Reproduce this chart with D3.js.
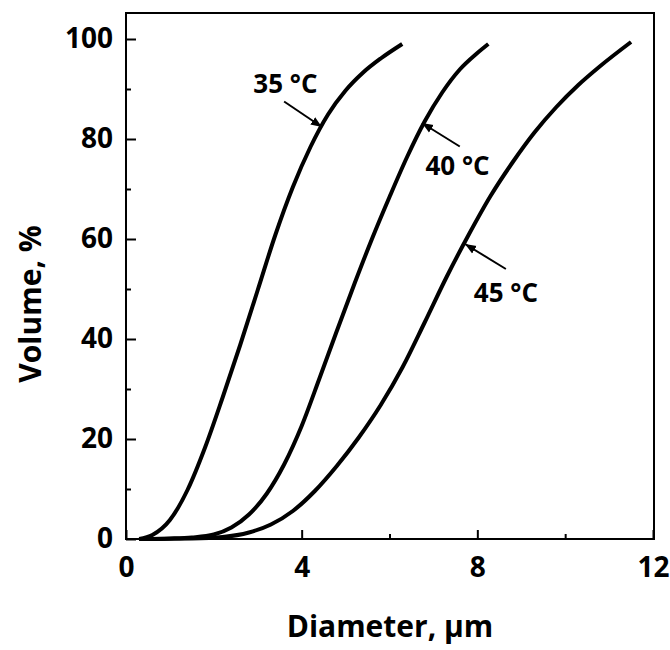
<!DOCTYPE html>
<html>
<head>
<meta charset="utf-8">
<script src="https://cdnjs.cloudflare.com/ajax/libs/d3/7.8.5/d3.min.js"></script>
<style>
body { margin: 0; background: #fff; }
svg text { font-family: "Open Sans", "DejaVu Sans", sans-serif; font-weight: bold; fill: #000; }
</style>
</head>
<body>
<svg id="chart" width="670" height="650"></svg>
<script>
// values: [diameter um, cumulative volume %]
var c35 = [[0.3,0],[0.6,0.8],[1.0,3.8],[1.4,9.8],[1.8,18.3],[2.2,28.3],[2.6,38.8],[3.0,49.8],
           [3.4,60.8],[3.8,70.4],[4.2,78.4],[4.6,84.9],[5.0,89.7],[5.4,93.3],[5.8,96.1],[6.29,99]];
var c40 = [[0.3,0],[1.0,0.1],[1.5,0.3],[2.0,0.9],[2.4,2.3],[2.8,4.9],[3.2,9.0],[3.6,14.9],
           [4.0,22.6],[4.4,32.0],[4.8,41.6],[5.2,51.0],[5.6,60.0],[6.0,68.4],[6.4,76.4],
           [6.8,83.5],[7.2,89.3],[7.6,93.9],[8.0,97.2],[8.25,99]];
var c45 = [[0.3,0],[1.5,0.1],[2.2,0.4],[2.8,1.3],[3.3,2.9],[3.8,5.6],[4.3,9.6],[4.8,14.6],
           [5.3,20.3],[5.8,26.8],[6.3,34.4],[6.8,43.3],[7.3,52.4],[7.8,60.8],[8.3,68.6],
           [8.8,75.3],[9.3,81.3],[9.8,86.4],[10.3,90.8],[10.8,94.6],[11.5,99.4]];
var series = [c35, c40, c45];
var seriesNames = ["35 \u00B0C", "40 \u00B0C", "45 \u00B0C"];
// arrow tail / tip in data units, label anchor
var arrowTail = [[3.6,87.5],[7.6,78.5],[8.65,54]];
var arrowTip  = [[4.46,82.4],[6.74,83.2],[7.72,59]];
var labelPos  = [[3.63,89.2],[7.55,72.8],[8.65,47.4]];
var xTicks = [0,4,8,12], xMinor = [2,6,10];
var yTicks = [0,20,40,60,80,100], yMinor = [10,30,50,70,90];

var svg = d3.select("#chart");
var x = d3.scaleLinear().domain([0,12]).range([126,653]);
var y = d3.scaleLinear().domain([0,105.2]).range([539,13]);

var defs = svg.append("defs");
defs.append("marker").attr("id","ah").attr("viewBox","0 0 10 10")
    .attr("refX",10).attr("refY",5).attr("markerWidth",5.5).attr("markerHeight",5.5)
    .attr("markerUnits","strokeWidth").attr("orient","auto")
  .append("path").attr("d","M0,1 L10,5 L0,9 z").attr("fill","#000");

// curves
var line = d3.line().x(function(d){ return x(d[0]); }).y(function(d){ return y(d[1]); })
    .curve(d3.curveMonotoneX);
svg.selectAll(".curve").data(series).enter().append("path")
    .attr("class","curve").attr("d", line)
    .attr("fill","none").attr("stroke","#000").attr("stroke-width",4)
    .attr("stroke-linecap","butt");

// axes, ticks inward
var ax = svg.append("g").attr("transform","translate(0,539)")
    .call(d3.axisBottom(x).tickValues(xTicks).tickSize(-9).tickPadding(18).tickFormat(d3.format("d")));
svg.append("g").attr("transform","translate(0,539)")
    .call(d3.axisBottom(x).tickValues(xMinor).tickSize(-5).tickFormat(""));
var ay = svg.append("g").attr("transform","translate(126,0)")
    .call(d3.axisLeft(y).tickValues(yTicks).tickSize(-10).tickPadding(13).tickFormat(d3.format("d")));
svg.append("g").attr("transform","translate(126,0)")
    .call(d3.axisLeft(y).tickValues(yMinor).tickSize(-5).tickFormat(""));
svg.selectAll(".domain").remove();
svg.selectAll(".tick line").attr("stroke","#000").attr("stroke-width",2);
ax.selectAll("text").attr("font-size",28).style("font-family","Open Sans").style("font-weight","bold");
ay.selectAll("text").attr("font-size",28).style("font-family","Open Sans").style("font-weight","bold");

// frame
svg.append("rect").attr("x",126).attr("y",13).attr("width",528).attr("height",526)
    .attr("fill","none").attr("stroke","#000").attr("stroke-width",2);

// labels with arrows
for (var i = 0; i < 3; i++) {
    svg.append("line")
        .attr("x1", x(arrowTail[i][0])).attr("y1", y(arrowTail[i][1]))
        .attr("x2", x(arrowTip[i][0])).attr("y2", y(arrowTip[i][1]))
        .attr("stroke","#000").attr("stroke-width",2).attr("marker-end","url(#ah)");
    svg.append("text").attr("x", x(labelPos[i][0])).attr("y", y(labelPos[i][1]))
        .attr("font-size",26).attr("text-anchor","middle").text(seriesNames[i]);
}

// axis titles
svg.append("text").attr("x",390).attr("y",637).attr("text-anchor","middle")
    .attr("font-size",30).text("Diameter, \u03BCm");
svg.append("text").attr("transform","translate(41,304) rotate(-90)").attr("text-anchor","middle")
    .attr("font-size",30).text("Volume, %");
</script>
</body>
</html>
